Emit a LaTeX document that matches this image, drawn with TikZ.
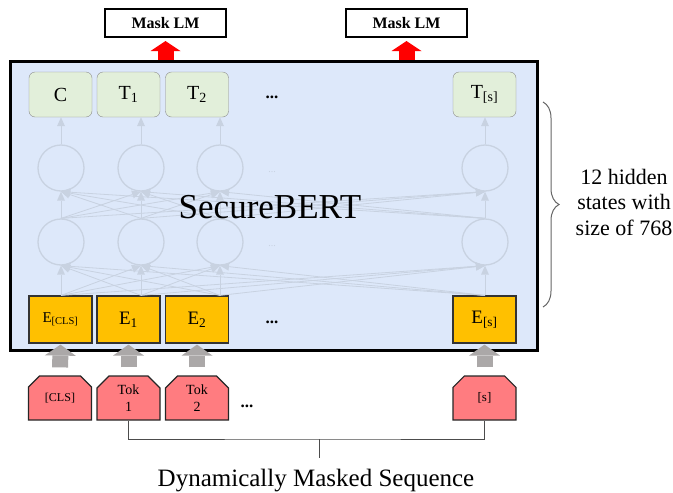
\documentclass[tikz,border=0pt]{standalone}
\usepackage{fontspec}
\setmainfont{Liberation Serif}
\usetikzlibrary{shapes.misc,arrows.meta,decorations.pathreplacing}

\definecolor{bertbg}{RGB}{221,232,250}
\definecolor{tfill}{RGB}{226,239,218}
\definecolor{tline}{RGB}{140,140,140}
\definecolor{efill}{RGB}{255,192,0}
\definecolor{tokfill}{RGB}{255,124,128}
\definecolor{hline}{RGB}{200,210,225}
\definecolor{blockgray}{RGB}{171,168,168}

\begin{document}
\begin{tikzpicture}[x=1pt, y=-1pt]

\tikzset{
  bertbox/.style={draw, line width=3pt, fill=bertbg, minimum width=527pt, minimum height=289pt, inner sep=0pt},
  mlm/.style={draw, line width=2pt, minimum width=121pt, minimum height=28pt, inner sep=0pt, font=\fontsize{16}{18}\selectfont\bfseries},
  tbox/.style={draw=tline, fill=tfill, rounded corners=6pt, minimum width=63pt, minimum height=45pt, inner sep=0pt, font=\fontsize{20}{22}\selectfont},
  ebox/.style={draw=black!80, line width=1.2pt, fill=efill, minimum width=63pt, minimum height=47pt, inner sep=0pt, font=\fontsize{19}{21}\selectfont},
  tok/.style={chamfered rectangle, chamfered rectangle corners={north east, north west}, chamfered rectangle xsep=6pt, chamfered rectangle ysep=6pt, draw=black!85, line width=1.2pt, fill=tokfill, minimum width=63pt, minimum height=44pt, inner sep=0pt, align=center, font=\fontsize{14}{17}\selectfont},
  hnode/.style={circle, draw=hline, line width=1.3pt, minimum size=46pt, inner sep=0pt},
  hid/.style={draw=hline, line width=0.8pt, -{Triangle[width=8pt,length=9pt,line width=0pt]}},
  blockarr/.style={draw=blockgray, line width=16pt, -{Triangle[width=31pt,length=11pt,line width=0pt]}, shorten <=8pt, shorten >=1pt},
  redarr/.style={draw=red, line width=16pt, -{Triangle[width=30pt,length=10pt,line width=0pt]}, shorten >=3pt},
  bracket/.style={draw=black!70, line width=1pt},
  dots/.style={font=\fontsize{17}{17}\selectfont\bfseries},
  hdots/.style={text=hline, font=\fontsize{10}{10}\selectfont},
}

\useasboundingbox (0,0) rectangle (673,493);

% encoder box
\node[bertbox, name=bert] at (273.5,205.5) {};

% heads
\node[mlm, name=mlm1] at (165.5,23) {Mask LM};
\node[mlm, name=mlm2] at (406.5,23) {Mask LM};

% output states
\node[tbox, name=tc] at (60.5,94.5) {C};
\node[tbox, name=t1] at (128.5,94.5) {T\textsubscript{1}};
\node[tbox, name=t2] at (197,94.5) {T\textsubscript{2}};
\node[tbox, name=ts] at (484.5,94.5) {T\textsubscript{[s]}};
\node[dots, name=tdots] at (272,97) {...};

% hidden layers
\node[hnode, name=h11] at (61,242) {};
\node[hnode, name=h12] at (141,242) {};
\node[hnode, name=h13] at (220,242) {};
\node[hnode, name=h14] at (485,242) {};
\node[hnode, name=h21] at (61,168) {};
\node[hnode, name=h22] at (141,168) {};
\node[hnode, name=h23] at (220,168) {};
\node[hnode, name=h24] at (485,168) {};
\node[hdots, name=hdots1] at (272,246) {...};
\node[hdots, name=hdots2] at (272,172) {...};

% embeddings
\node[ebox, name=ec] at (60.5,319.5) {\fontsize{15}{17}\selectfont E\textsubscript{[CLS]}};
\node[ebox, name=e1] at (128.5,319.5) {E\textsubscript{1}};
\node[ebox, name=e2] at (197,319.5) {E\textsubscript{2}};
\node[ebox, name=es] at (484.5,319.5) {E\textsubscript{[s]}};
\node[dots, name=edots] at (272,322) {...};

% input tokens
\node[tok, name=kc] at (60,398) {\fontsize{12}{14}\selectfont [CLS]};
\node[tok, name=k1] at (128.5,398) {Tok\\1};
\node[tok, name=k2] at (197,398) {Tok\\2};
\node[tok, name=ks] at (484.5,398) {\fontsize{13}{15}\selectfont [s]};
\node[dots, name=kdots] at (247,406) {...};

\foreach \i in {1,...,4}
  \foreach \j in {1,...,4}
    \draw[hid] (h1\i.south |- ec.north) -- (h1\j.south);
\foreach \i in {1,...,4}
  \foreach \j in {1,...,4}
    \draw[hid] (h1\i.north) -- (h2\j.south);
\foreach \h/\t in {h21/tc, h22/t1, h23/t2, h24/ts}
  \draw[hid] (\h.north) -- (\h.north |- \t.south);

\node[font=\fontsize{35}{38}\selectfont, name=title] at (270,207) {SecureBERT};

\draw[redarr] (bert.north -| mlm1.south) -- (mlm1.south);
\draw[redarr] (bert.north -| mlm2.south) -- (mlm2.south);

\draw[blockarr] (kc.north) -- (ec.south);
\draw[blockarr] (k1.north) -- (e1.south);
\draw[blockarr] (k2.north) -- (e2.south);
\draw[blockarr] (ks.north) -- (es.south);

% masked sequence
\coordinate (bm) at (319,439);
\coordinate (bt) at (319,458);
\draw[bracket] (k1.south) |- (bm) -| (ks.south);
\draw[bracket] (bm) -- (bt);
\node[anchor=base, font=\fontsize{25}{28}\selectfont, name=caption] at (316,486) {Dynamically Masked Sequence};

% hidden size note
\coordinate (brt) at (543,102);
\coordinate (brb) at (543,307);
\draw[draw=black!60, line width=1pt, decorate, decoration={brace, amplitude=16pt}] (brt) -- (brb);
\node[align=center, font=\fontsize{22}{25.5}\selectfont, name=note] at (624,202) {12 hidden\\states with\\size of 768};

\end{tikzpicture}
\end{document}
